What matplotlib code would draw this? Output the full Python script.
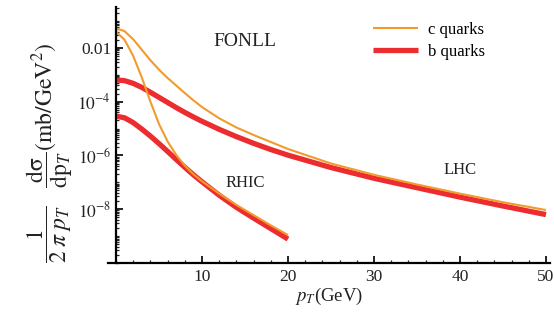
import numpy as np
import matplotlib
matplotlib.use("Agg")
import matplotlib.pyplot as plt
from matplotlib.ticker import FixedLocator, LogLocator, NullFormatter, MultipleLocator

plt.rcParams["font.family"] = ["Liberation Serif", "DejaVu Serif"]
plt.rcParams["mathtext.fontset"] = "stix"

# pT grids (GeV)
pt_rhic = [0, 1, 2, 3, 4, 5, 6, 7, 8, 9, 10, 12, 14, 16, 18, 20]
pt_lhc = [0, 1, 2, 3, 4, 5, 6, 7, 8, 9, 10, 12, 14, 16, 18, 20,
          25, 30, 35, 40, 45, 50]

# log10 of 1/(2 pi pT) dsigma/dpT in mb/GeV^2
c_rhic_log = [-1.40, -1.70, -2.30, -3.10, -4.00, -4.83, -5.48, -5.98, -6.38,
              -6.70, -6.96, -7.42, -7.84, -8.22, -8.60, -8.96]
b_rhic_log = [-4.54, -4.60, -4.78, -5.02, -5.28, -5.56, -5.85, -6.15, -6.44,
              -6.72, -6.98, -7.48, -7.93, -8.33, -8.72, -9.11]
c_lhc_log = [-1.27, -1.38, -1.68, -2.07, -2.46, -2.81, -3.12, -3.40, -3.68,
             -3.95, -4.20, -4.62, -4.96, -5.24, -5.50, -5.76, -6.30, -6.72,
             -7.08, -7.42, -7.74, -8.03]
b_lhc_log = [-3.19, -3.22, -3.32, -3.47, -3.65, -3.84, -4.03, -4.22, -4.40,
             -4.57, -4.73, -5.03, -5.30, -5.55, -5.78, -5.99, -6.45, -6.85,
             -7.20, -7.55, -7.88, -8.20]

ytick_vals = [1e-2, 1e-4, 1e-6, 1e-8]
ytick_labels = ["0.01", r"$10^{-4}$", r"$10^{-6}$", r"$10^{-8}$"]
xtick_vals = [10, 20, 30, 40, 50]

orange = "#F39A2C"
red = "#EC2C2F"
ink = "#222222"

fig = plt.figure(figsize=(5.54, 3.2), dpi=100)
ax = fig.add_axes([108 / 554, 1 - 263 / 320, 442 / 554, 256 / 320])

b_lhc_line, = ax.plot(pt_lhc, 10 ** np.array(b_lhc_log), color=red, lw=3.8,
                      solid_capstyle="butt")
ax.plot(pt_rhic, 10 ** np.array(b_rhic_log), color=red, lw=3.8, solid_capstyle="butt")
c_lhc_line, = ax.plot(pt_lhc, 10 ** np.array(c_lhc_log), color=orange, lw=1.5,
                      solid_capstyle="butt")
ax.plot(pt_rhic, 10 ** np.array(c_rhic_log), color=orange, lw=1.5, solid_capstyle="butt")

ax.set_yscale("log")
ax.set_xlim(-0.93, 50.47)
ax.set_ylim(1e-10, 10 ** -0.48)

for s in ["top", "right"]:
    ax.spines[s].set_visible(False)
ax.spines["left"].set_position(("data", 0))
ax.spines["left"].set_linewidth(1.6)
ax.spines["bottom"].set_linewidth(1.6)

ax.xaxis.set_major_locator(FixedLocator(xtick_vals))
ax.xaxis.set_minor_locator(MultipleLocator(2))
ax.yaxis.set_major_locator(FixedLocator(ytick_vals))
ax.set_yticklabels(ytick_labels)
ax.yaxis.set_minor_locator(LogLocator(base=10, subs=np.arange(1, 10), numticks=30))
ax.yaxis.set_minor_formatter(NullFormatter())
ax.tick_params(axis="both", which="major", direction="in", length=5, width=1.4,
               labelsize=12.5, colors=ink)
ax.tick_params(axis="both", which="minor", direction="in", length=2.5, width=0.9,
               colors=ink)
ax.tick_params(axis="x", which="major", pad=4)

ax.set_xlabel(r"$p_T$(GeV)", fontsize=13.5, labelpad=1, color=ink)
fig.text(50 / 554, 1 - 153 / 320,
         r"$\dfrac{1}{2\;\pi\;p_T}\quad\dfrac{\mathrm{d\sigma}}{\mathrm{dp}_T}(\mathrm{mb/GeV}^2)$",
         rotation=90, ha="center", va="center", fontsize=17, color=ink)

fig.text(245 / 554, 1 - 42 / 320, "FONLL", ha="center", va="center", fontsize=14, color=ink)
fig.text(245 / 554, 1 - 183 / 320, "RHIC", ha="center", va="center", fontsize=12, color=ink)
fig.text(460 / 554, 1 - 170 / 320, "LHC", ha="center", va="center", fontsize=12, color=ink)

ax.legend([c_lhc_line, b_lhc_line], ["c quarks", "b quarks"], loc="upper left",
          frameon=False, fontsize=12, handlelength=2.7, handletextpad=0.6,
          labelspacing=0.35, bbox_to_anchor=((358 - 108) / 442, 1.0))

fig.savefig("out.png", dpi=100)
